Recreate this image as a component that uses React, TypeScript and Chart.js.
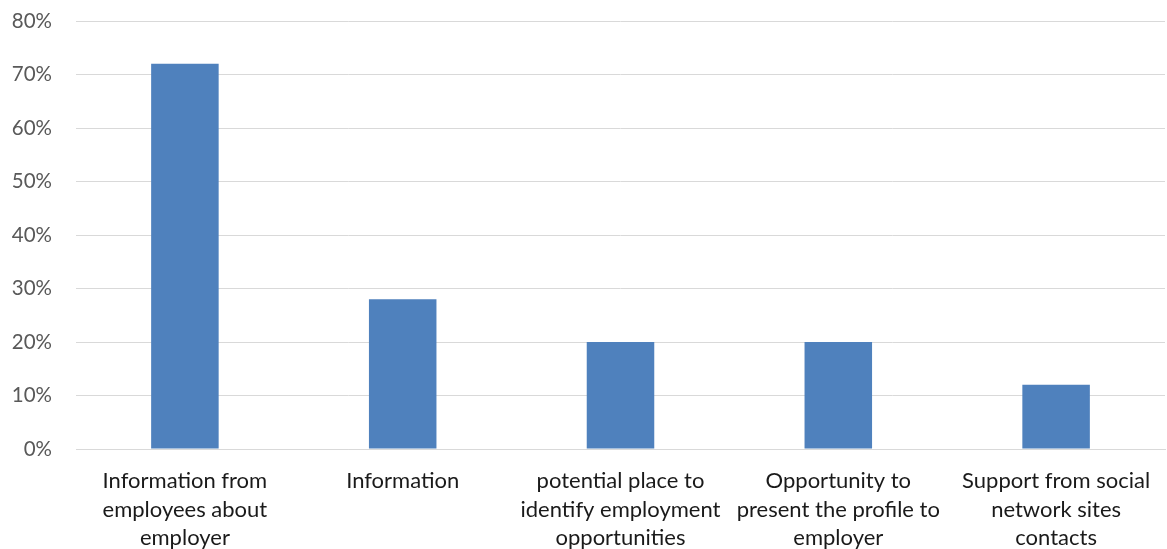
import React, { useEffect, useRef } from "react";
import { Chart, registerables } from "chart.js";

Chart.register(...registerables);

const categories: string[][] = [
  ["Information from", "employees about", "employer"],
  ["Information"],
  ["potential place to", "identify employment", "opportunities"],
  ["Opportunity to", "present the profile to", "employer"],
  ["Support from social", "network sites", "contacts"],
];
const shares: number[] = [72, 28, 20, 20, 12];
const yTicks: number[] = [0, 10, 20, 30, 40, 50, 60, 70, 80];

const FONT = "Lato, 'Open Sans', sans-serif";

export default function App() {
  const ref = useRef<HTMLCanvasElement | null>(null);

  useEffect(() => {
    if (!ref.current) return;
    const chart = new Chart(ref.current, {
      type: "bar",
      data: {
        labels: categories,
        datasets: [
          {
            data: shares,
            backgroundColor: "#4F81BD",
            borderWidth: 0,
            categoryPercentage: 1,
            barPercentage: 0.31,
          },
        ],
      },
      options: {
        animation: false,
        responsive: false,
        layout: { padding: { top: 21, right: 2, left: 0, bottom: 0 } },
        plugins: { legend: { display: false }, tooltip: { enabled: false } },
        scales: {
          x: {
            grid: { display: false },
            border: { color: "#D9D9D9", width: 1 },
            ticks: {
              color: "#1a1a1a",
              font: { family: FONT, size: 22, lineHeight: 1.29 },
              padding: 10,
              maxRotation: 0,
              autoSkip: false,
            },
            afterFit: (s: any) => {
              s.height = 100;
            },
          },
          y: {
            min: 0,
            max: 80,
            afterBuildTicks: (s: any) => {
              s.ticks = yTicks.map((v) => ({ value: v }));
            },
            grid: { color: "#D9D9D9", lineWidth: 1, drawTicks: false },
            border: { display: false },
            ticks: {
              color: "#595959",
              font: { family: FONT, size: 20.5 },
              padding: 24,
              callback: (v: any) => `${v}%`,
            },
            afterFit: (s: any) => {
              s.width = 76;
              s.paddingTop = 0;
              s.paddingBottom = 0;
            },
          },
        },
      },
    });
    return () => chart.destroy();
  }, []);

  return (
    <div style={{ position: "absolute", left: 0, top: 0, width: 1167, height: 549, background: "#fff" }}>
      <canvas ref={ref} width={1167} height={549} />
    </div>
  );
}
